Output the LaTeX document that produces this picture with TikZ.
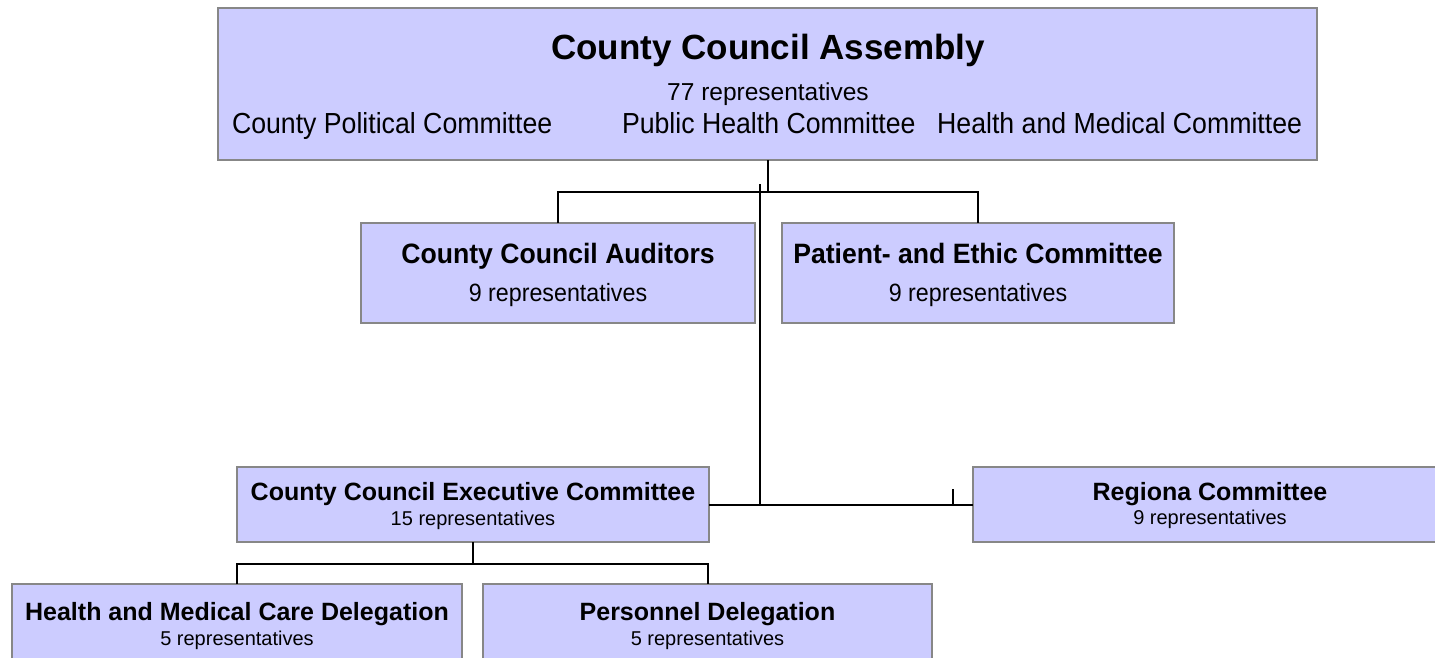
\documentclass[tikz,border=0pt]{standalone}
\usepackage{fontspec}
\usepackage{graphicx}
\setmainfont{Liberation Sans}
\definecolor{boxfill}{HTML}{CCCCFF}
\definecolor{boxline}{HTML}{878787}
\newcommand{\hsq}[2]{\scalebox{#1}[1]{#2}}
\begin{document}
\begin{tikzpicture}[x=1pt,y=-1pt,
  box/.style={draw=boxline,line width=2.5pt,fill=boxfill,inner sep=0pt,outer sep=0pt,anchor=north west},
  conn/.style={draw=black,line width=2pt},
  thinconn/.style={draw=black,line width=1.5pt},
  txt/.style={inner sep=0pt,outer sep=0pt,anchor=base},
  txtl/.style={inner sep=0pt,outer sep=0pt,anchor=base west},
  txtr/.style={inner sep=0pt,outer sep=0pt,anchor=base east},
  rowfont/.style={font=\fontsize{29}{32}\selectfont},
  midtitle/.style={font=\bfseries\fontsize{28}{31}\selectfont},
  midsub/.style={font=\fontsize{25}{28}\selectfont},
  lowtitle/.style={font=\bfseries\fontsize{25}{28}\selectfont},
  lowsub/.style={font=\fontsize{20}{24}\selectfont},
]
\useasboundingbox[fill=white] (0,0) rectangle (1435,657);
% boxes
\node[box,minimum width=1099pt,minimum height=152pt] (top) at (218,8) {};
\node[box,minimum width=394pt,minimum height=100pt] (aud) at (361,223) {};
\node[box,minimum width=392pt,minimum height=100pt] (pat) at (782,223) {};
\node[box,minimum width=472pt,minimum height=75pt] (exec) at (237,467) {};
\node[box,minimum width=474pt,minimum height=75pt] (reg) at (973,467) {};
\node[box,minimum width=450pt,minimum height=90pt] (hmc) at (12,584) {};
\node[box,minimum width=449pt,minimum height=90pt] (pers) at (483,584) {};
% texts
\node[txt,font=\bfseries\fontsize{35}{40}\selectfont] (topT) at (768,59) {County Council Assembly};
\node[txt,font=\fontsize{24.5}{28}\selectfont] (topS) at (768,100) {77 representatives};
\node[txtl,rowfont] (c1) at (232,133) {\hsq{0.92}{County Political Committee}};
\node[txtl,rowfont] (c2) at (622,133) {\hsq{0.92}{Public Health Committee}};
\node[txtr,rowfont] (c3) at (1302,133) {\hsq{0.92}{Health and Medical Committee}};
\node[txt,midtitle] (audT) at (aud.north |- 0,263) {\hsq{0.95}{County Council Auditors}};
\node[txt,midsub] (audS) at (aud.north |- 0,301) {\hsq{0.93}{9 representatives}};
\node[txt,midtitle] (patT) at (pat.north |- 0,263) {\hsq{0.95}{Patient- and Ethic Committee}};
\node[txt,midsub] (patS) at (pat.north |- 0,301) {\hsq{0.93}{9 representatives}};
\node[txt,lowtitle] (execT) at (exec.north |- 0,500) {County Council Executive Committee};
\node[txt,lowsub] (execS) at (exec.north |- 0,525) {15 representatives};
\node[txt,lowtitle] (regT) at (reg.north |- 0,500) {Regiona Committee};
\node[txt,lowsub] (regS) at (reg.north |- 0,524) {9 representatives};
\node[txt,lowtitle] (hmcT) at (hmc.north |- 0,620) {Health and Medical Care Delegation};
\node[txt,lowsub] (hmcS) at (hmc.north |- 0,645) {5 representatives};
\node[txt,lowtitle] (persT) at (pers.north |- 0,620) {Personnel Delegation};
\node[txt,lowsub] (persS) at (pers.north |- 0,645) {5 representatives};
% connectors
\coordinate (busTop) at (768,192);
\coordinate (vtop) at (760,184);
\coordinate (vbot) at (760,504.5);
\coordinate (tick) at (953,489);
\coordinate (busLow) at (472,564);
\draw[conn] (top.south) -- (top.south |- busTop);
\draw[conn] (aud.north) |- (busTop) -| (pat.north);
\draw[thinconn] (vtop) -- (vbot);
\draw[conn] (exec.east) -- (reg.west);
\draw[conn] (tick) -- (tick |- reg.west);
\draw[conn] (exec.south) -- (exec.south |- busLow);
\draw[conn] (hmc.north) |- (busLow) -| (pers.north);
\end{tikzpicture}
\end{document}
